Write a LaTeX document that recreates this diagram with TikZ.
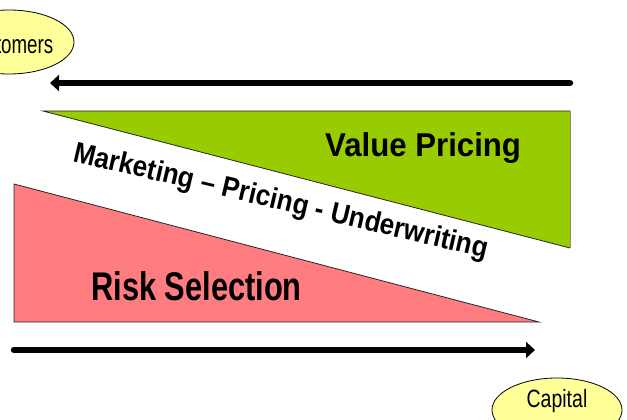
\documentclass[tikz,border=0pt]{standalone}
\usepackage{fontspec}
\usepackage{graphicx}
\setmainfont{Liberation Sans}
\usetikzlibrary{arrows.meta,shapes.geometric}
\definecolor{ellfill}{HTML}{FFFF99}
\definecolor{greenfill}{HTML}{99CC00}
\definecolor{redfill}{HTML}{FF7C80}
\begin{document}
\begin{tikzpicture}[x=1pt,y=-1pt,
  ellbox/.style={ellipse, draw=black, line width=0.8pt, fill=ellfill, minimum width=130pt, minimum height=64pt, inner sep=0pt},
  elltext/.style={inner sep=0pt, font=\fontsize{26}{30}\selectfont},
  bigarrow/.style={line width=6.5pt, line cap=round, -{Triangle[length=9pt,width=16pt]}},
  bigtext/.style={inner sep=0pt, anchor=base west},
  tri/.style={draw=black!85, line width=0.8pt}
]
\useasboundingbox (0,0) rectangle (627,420);
% triangles
\coordinate (g1) at (43,111);
\coordinate (g2) at (570,111);
\coordinate (g3) at (570,248);
\fill[greenfill] (g1) -- (g2) -- (g3) -- cycle;
\draw[tri] (g3) -- (g1) -- (g2);
\draw[draw=black!45, line width=1pt] (g2) -- (g3);
\coordinate (r1) at (14,184);
\coordinate (r2) at (14,322);
\coordinate (r3) at (539,322);
\filldraw[fill=redfill, tri] (r1) -- (r2) -- (r3) -- cycle;
% arrows
\coordinate (t1) at (570,83);
\coordinate (t2) at (50,83);
\draw[bigarrow] (t1) -- (t2);
\coordinate (b1) at (14,350);
\coordinate (b2) at (535,350);
\draw[bigarrow] (b1) -- (b2);
% ellipses
\node[ellbox] (cust) at (9,42) {};
\node[elltext] (custtext) at (8,44.5) {\scalebox{0.72}[1]{Customers}};
\node[ellbox] (cap) at (557,410) {};
\node[elltext, anchor=base, font=\fontsize{25}{29}\selectfont] (captext) at (557,407) {\scalebox{0.78}[1]{Capital}};
% texts
\node[bigtext, font=\bfseries\fontsize{33}{37}\selectfont] (vp) at (325,157) {\scalebox{0.945}[1]{Value Pricing}};
\node[bigtext, font=\bfseries\fontsize{40}{44}\selectfont] (rs) at (91,300) {\scalebox{0.77}[1]{Risk Selection}};
\node[bigtext, rotate=-13.2, font=\bfseries\fontsize{29}{33}\selectfont] (mpu) at (72,161) {\scalebox{0.9}[1]{Marketing – Pricing - Underwriting}};
\end{tikzpicture}
\end{document}
